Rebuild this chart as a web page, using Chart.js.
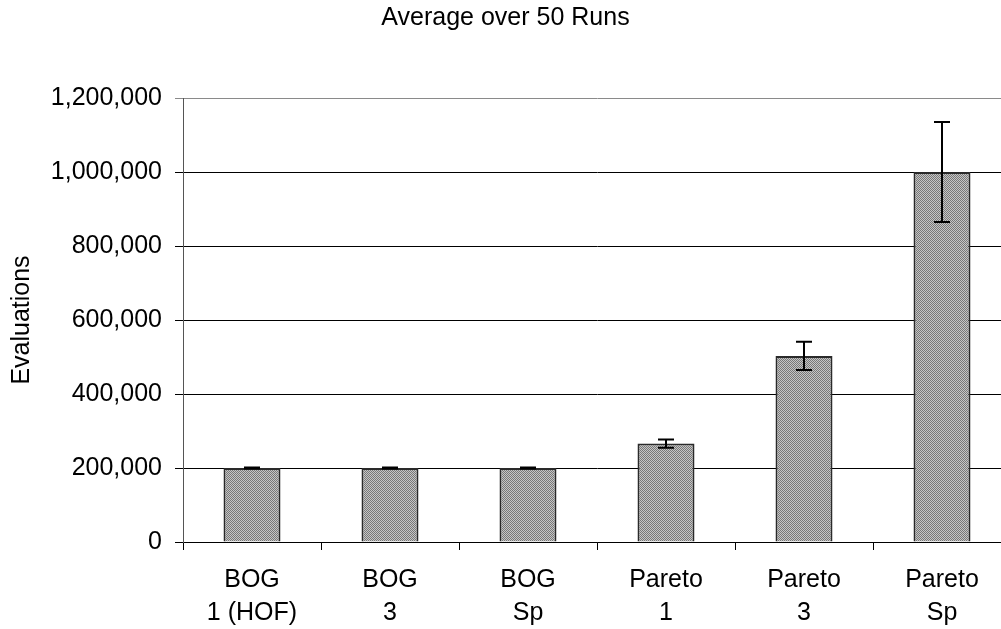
<!DOCTYPE html>
<html>
<head>
<meta charset="utf-8">
<script src="https://cdn.jsdelivr.net/npm/chart.js@4"></script>
<style>
  html, body { margin: 0; padding: 0; overflow: hidden; background: #fff; }
  #wrap { position: absolute; left: 0; top: 0; }
</style>
</head>
<body>
<div id="wrap"><canvas id="c" width="1012" height="629"></canvas></div>
<script>
// Categories (two-line labels) and mean evaluations with error half-widths
const categories = [
  ['BOG', '1 (HOF)'],
  ['BOG', '3'],
  ['BOG', 'Sp'],
  ['Pareto', '1'],
  ['Pareto', '3'],
  ['Pareto', 'Sp']
];
const meanEvaluations = [200000, 200000, 200000, 266000, 503000, 1000000];
const errorHalfWidth = [1500, 1500, 1500, 11000, 38000, 135000];
const yTicks = [0, 200000, 400000, 600000, 800000, 1000000, 1200000];

const FONT = "'Liberation Sans', Arial, sans-serif";

// Dithered grey fill for the bars
function makeDither() {
  const p = document.createElement('canvas');
  p.width = 2; p.height = 2;
  const g = p.getContext('2d');
  g.fillStyle = '#c6c6c6'; g.fillRect(0, 0, 2, 2);
  g.fillStyle = '#787878'; g.fillRect(0, 0, 1, 1); g.fillRect(1, 1, 1, 1);
  return g.createPattern(p, 'repeat');
}

// Error bars drawn through the y scale
const errorBars = {
  id: 'errorBars',
  afterDatasetsDraw(chart) {
    const ctx = chart.ctx;
    const y = chart.scales.y;
    const meta = chart.getDatasetMeta(0);
    ctx.save();
    ctx.strokeStyle = '#000';
    ctx.lineWidth = 2;
    meta.data.forEach((bar, i) => {
      const v = meanEvaluations[i], e = errorHalfWidth[i];
      const yt = y.getPixelForValue(v + e);
      const yb = y.getPixelForValue(v - e);
      const cap = 8;
      ctx.beginPath();
      ctx.moveTo(bar.x, yt); ctx.lineTo(bar.x, yb);
      ctx.moveTo(bar.x - cap, yt); ctx.lineTo(bar.x + cap, yt);
      ctx.moveTo(bar.x - cap, yb); ctx.lineTo(bar.x + cap, yb);
      ctx.stroke();
    });
    ctx.restore();
  }
};

new Chart(document.getElementById('c'), {
  type: 'bar',
  data: {
    labels: categories,
    datasets: [{
      data: meanEvaluations,
      backgroundColor: makeDither(),
      borderColor: '#2a2a2a',
      borderWidth: 2,
      barPercentage: 1,
      categoryPercentage: 0.413
    }]
  },
  options: {
    responsive: false,
    animation: false,
    devicePixelRatio: 1,
    layout: { padding: { left: 0, right: 1, top: 0, bottom: 0 } },
    plugins: {
      legend: { display: false },
      tooltip: { enabled: false },
      title: {
        display: true,
        text: 'Average over 50 Runs',
        color: '#000',
        font: { family: FONT, size: 25, weight: 'normal', lineHeight: 1.2 },
        padding: { top: 3, bottom: 65 }
      }
    },
    scales: {
      x: {
        offset: true,
        afterFit(s) { s.height = 87; },
        grid: {
          offset: true,
          drawOnChartArea: false,
          drawTicks: true,
          tickLength: 8,
          color: '#000',
          lineWidth: 1
        },
        border: { display: true, color: '#000', width: 1 },
        ticks: {
          color: '#000',
          padding: 14,
          maxRotation: 0,
          autoSkip: false,
          font: { family: FONT, size: 25, lineHeight: 1.32 }
        }
      },
      y: {
        min: 0,
        max: 1200000,
        afterFit(s) { s.width = 183; },
        afterBuildTicks(s) { s.ticks = yTicks.map(v => ({ value: v })); },
        grid: {
          color: ctx => (ctx.tick && ctx.tick.value === 1200000) ? '#8a8a8a' : '#000',
          lineWidth: 1,
          tickLength: 8,
          drawTicks: true
        },
        border: { display: true, color: '#555', width: 1 },
        title: {
          display: true,
          text: 'Evaluations',
          color: '#000',
          font: { family: FONT, size: 25, lineHeight: 1.2 },
          padding: { top: 7, bottom: 0 }
        },
        ticks: {
          color: '#000',
          padding: 13,
          font: { family: FONT, size: 25 },
          callback: v => Number(v).toLocaleString('en-US')
        }
      }
    }
  },
  plugins: [errorBars]
});
</script>
</body>
</html>
